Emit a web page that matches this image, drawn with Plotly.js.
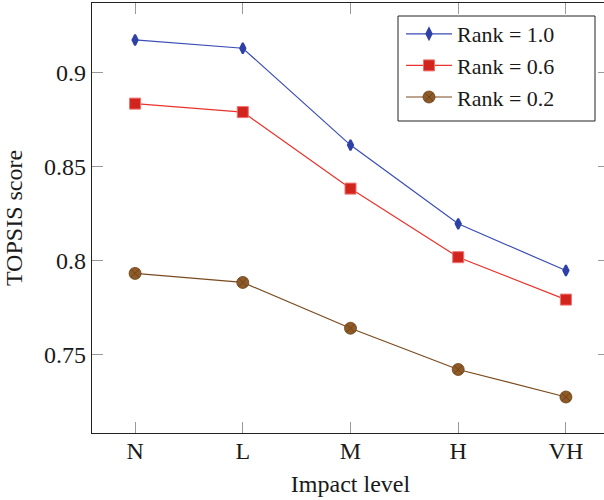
<!DOCTYPE html>
<html>
<head>
<meta charset="utf-8">
<script src="https://cdn.plot.ly/plotly-3.0.1.min.js"></script>
<style>
html,body{margin:0;padding:0;overflow:hidden;background:#fff;}
#chart{width:610px;height:500px;}
</style>
</head>
<body>
<div id="chart"></div>
<script>
var categories = ["N", "L", "M", "H", "VH"];
var rank10 = [0.9171, 0.9127, 0.8613, 0.8195, 0.7947];
var rank06 = [0.8833, 0.8788, 0.8382, 0.8018, 0.7793];
var rank02 = [0.7932, 0.7884, 0.7641, 0.7422, 0.7276];
var seriesNames = ["Rank = 1.0", "Rank = 0.6", "Rank = 0.2"];
var yTickVals = [0.75, 0.8, 0.85, 0.9];
var yTickText = ["0.75", "0.8", "0.85", "0.9"];

var FONT = "'Liberation Serif', 'Times New Roman', serif";

// plot area in pixels (for converting legend-box pixel layout to paper fractions)
var PL = 92, PR = 609, PT = 3, PB = 433;
function px2x(p) { return (p - PL) / (PR - PL); }
function px2y(p) { return (PB - p) / (PB - PT); }

var traces = [
  {
    x: categories, y: rank10, name: seriesNames[0], type: "scatter", mode: "lines+markers",
    line: {color: "#3a4db4", width: 1.2},
    marker: {symbol: "diamond-tall", size: 7.5, color: "#2f40a6", line: {color: "#2f40a6", width: 2}}
  },
  {
    x: categories, y: rank06, name: seriesNames[1], type: "scatter", mode: "lines+markers",
    line: {color: "#e8342c", width: 1.2},
    marker: {symbol: "square", size: 11, color: "#d0241c", line: {color: "#f07070", width: 1}}
  },
  {
    x: categories, y: rank02, name: seriesNames[2], type: "scatter", mode: "lines+markers",
    line: {color: "#7a4a1e", width: 1.2},
    marker: {symbol: "circle-x", size: 12, color: "#8e5a28", line: {color: "#6a3e14", width: 0.8}}
  }
];

var layout = {
  width: 610, height: 500,
  margin: {l: PL, r: 610 - PR, t: PT, b: 500 - PB},
  paper_bgcolor: "#fff", plot_bgcolor: "#fff",
  font: {family: FONT, size: 24, color: "#1a1a1a"},
  showlegend: true,
  legend: {
    x: px2x(401), y: px2y(13), xref: "paper", yref: "paper", xanchor: "left", yanchor: "top",
    bgcolor: "rgba(0,0,0,0)", borderwidth: 0,
    font: {family: FONT, size: 22, color: "#1a1a1a"},
    itemwidth: 46, tracegroupgap: 0
  },
  shapes: [
    {type: "rect", xref: "paper", yref: "paper", x0: px2x(398), x1: px2x(595), y0: px2y(121), y1: px2y(16),
     line: {color: "#222", width: 1}, fillcolor: "#fff", layer: "above"}
  ],
  xaxis: {
    type: "category", range: [-0.4, 4.4],
    showline: true, linecolor: "#222", linewidth: 1.3, mirror: "ticks",
    ticks: "inside", ticklen: 11, tickcolor: "#999", tickwidth: 1,
    showgrid: false, zeroline: false, ticklabelstandoff: -4,
    tickfont: {family: FONT, size: 24, color: "#1a1a1a"},
    title: {text: "Impact level", font: {family: FONT, size: 24, color: "#1a1a1a"}, standoff: 12}
  },
  yaxis: {
    range: [0.7085, 0.9367],
    tickvals: yTickVals, ticktext: yTickText,
    showline: true, linecolor: "#222", linewidth: 1.3, mirror: "ticks",
    ticks: "inside", ticklen: 11, tickcolor: "#999", tickwidth: 1,
    showgrid: false, zeroline: false,
    tickfont: {family: FONT, size: 24, color: "#1a1a1a"},
    title: {text: "TOPSIS score", font: {family: FONT, size: 24, color: "#1a1a1a"}, standoff: 14}
  }
};

Plotly.newPlot("chart", traces, layout, {displayModeBar: false, staticPlot: true});
</script>
</body>
</html>
